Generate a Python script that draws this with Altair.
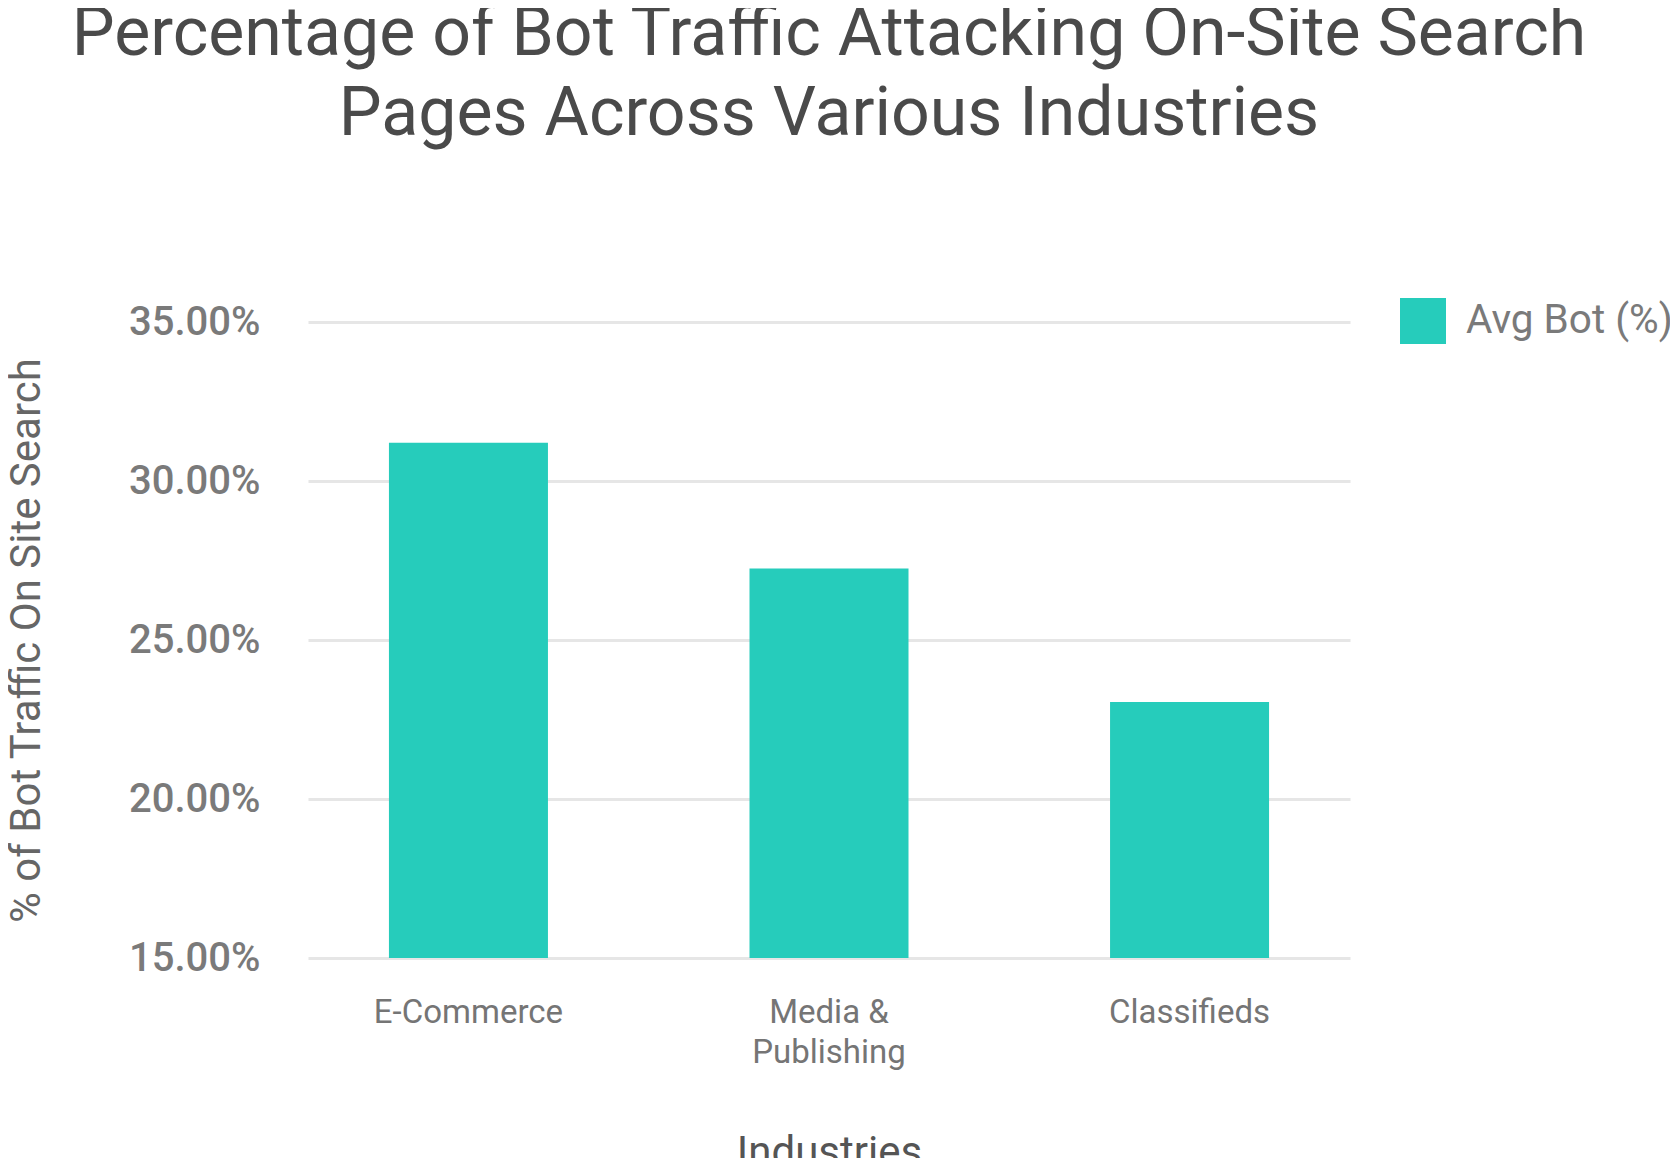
import altair as alt
import pandas as pd

# ---- data ----
industries = ["E-Commerce", "Media & Publishing", "Classifieds"]
avg_bot = [31.2, 27.25, 23.05]
series_name = "Avg Bot (%)"
y_ticks = [15, 20, 25, 30, 35]
y_min, y_max = 15, 35

title_lines = ["Percentage of Bot Traffic Attacking On-Site Search",
               "Pages Across Various Industries"]
x_title = "Industries"
y_title = "% of Bot Traffic On Site Search"

df = pd.DataFrame({
    "industry": industries,
    "value": avg_bot,
    "series": [series_name] * len(industries),
    "base": [y_min] * len(industries),
})

BAR = "#26CCBB"
FONT = "Roboto"

chart = alt.Chart(df).mark_bar(color=BAR).encode(
    x=alt.X(
        "industry:N",
        sort=industries,
        scale=alt.Scale(paddingInner=0.559, paddingOuter=0.2245),
        axis=alt.Axis(
            title=x_title,
            labelAngle=0,
            domain=False,
            ticks=False,
            grid=False,
            labelFont=FONT,
            labelFontSize=33,
            labelColor="#757575",
            labelPadding=38,
            labelLineHeight=40,
            labelLimit=400,
            labelExpr="datum.value == 'Media & Publishing' ? ['Media &', 'Publishing'] : datum.value",
            titleFont=FONT,
            titleFontSize=42,
            titleFontWeight="normal",
            titleColor="#555555",
            titleBaseline="alphabetic",
            titleX=521,
            titleY=207,
        ),
    ),
    y=alt.Y(
        "value:Q",
        scale=alt.Scale(domain=[y_min, y_max], nice=False, zero=False),
        axis=alt.Axis(
            title=y_title,
            values=y_ticks,
            labelExpr="format(datum.value, '.2f') + '%'",
            domain=False,
            ticks=False,
            gridColor="#e6e6e6",
            gridWidth=3,
            labelFont=FONT,
            labelFontSize=40,
            labelFontWeight=500,
            labelColor="#7a7a7a",
            labelPadding=48,
            titleFont=FONT,
            titleFontSize=42,
            titleFontWeight="normal",
            titleColor="#666666",
            titleAngle=270,
            titleBaseline="alphabetic",
            titleAlign="center",
            titleX=-269,
            titleY=318,
        ),
    ),
    y2="base:Q",
    color=alt.Color(
        "series:N",
        scale=alt.Scale(domain=[series_name], range=[BAR]),
        legend=alt.Legend(
            title=None,
            orient="none",
            legendX=1092,
            legendY=-24,
            padding=0,
            symbolType="square",
            symbolSize=2116,
            symbolStrokeWidth=0,
            symbolOpacity=1,
            labelFont=FONT,
            labelFontSize=40.5,
            labelColor="#7a7a7a",
            labelOffset=20,
            labelLimit=400,
            labelBaseline="middle",
        ),
    ),
).properties(
    width=1042,
    height=636,
    title=alt.TitleParams(
        text=title_lines,
        font=FONT,
        fontSize=68,
        fontWeight="normal",
        color="#4a4a4a",
        lineHeight=80,
        anchor="middle",
        offset=149,
    ),
    padding={"left": 300, "top": 314, "right": 320, "bottom": 200},
    autosize=alt.AutoSizeParams(type="none"),
).configure_view(stroke=None)

chart.save("out.html", embed_options={"renderer": "svg", "actions": False})
